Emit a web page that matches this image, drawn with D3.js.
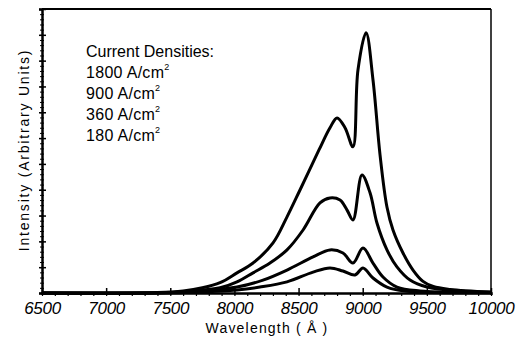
<!DOCTYPE html>
<html>
<head>
<meta charset="utf-8">
<script src="https://d3js.org/d3.v7.min.js"></script>
<style>
  body { margin: 0; background: #fff; }
  text { font-family: "Liberation Sans", "DejaVu Sans", sans-serif; fill: #000; }
  .curve { fill: none; stroke: #000; stroke-width: 3; stroke-linejoin: round; }
</style>
</head>
<body>
<svg width="519" height="341"></svg>
<script>
// wavelength (Angstrom) sample points for each curve
var wl1800 = [6500, 7400, 7600, 7750, 7888, 8020, 8145, 8301, 8410, 8511, 8659, 8745, 8800, 8862, 8924, 8963, 9026, 9080, 9135, 9189, 9236, 9314, 9392, 9470, 9550, 9680, 10000];
var i1800  = [0, 0.02, 0.08, 0.2, 0.4, 0.78, 1.16, 1.94, 2.95, 3.99, 5.54, 6.40, 6.78, 6.40, 5.66, 8.64, 10.08, 8.26, 5.35, 3.33, 2.44, 1.55, 0.89, 0.45, 0.25, 0.14, 0.04];

var wl900 = [6500, 7400, 7650, 7888, 8020, 8145, 8277, 8410, 8535, 8667, 8745, 8823, 8877, 8924, 8994, 9057, 9111, 9189, 9267, 9369, 9501, 9758, 10000];
var i900  = [0, 0.01, 0.07, 0.2, 0.43, 0.78, 1.16, 1.67, 2.44, 3.49, 3.68, 3.60, 3.22, 2.83, 4.57, 3.88, 2.71, 1.67, 1.01, 0.50, 0.23, 0.08, 0.03];

var wl360 = [6500, 7400, 7732, 8020, 8223, 8410, 8613, 8745, 8846, 8924, 9002, 9080, 9158, 9267, 9447, 10000];
var i360  = [0, 0.01, 0.07, 0.23, 0.50, 0.89, 1.40, 1.67, 1.55, 1.16, 1.74, 1.16, 0.62, 0.23, 0.08, 0.02];

var wl180 = [6500, 7400, 7732, 8020, 8199, 8410, 8613, 8745, 8846, 8940, 9002, 9080, 9189, 9330, 10000];
var i180  = [0, 0, 0.04, 0.12, 0.23, 0.43, 0.81, 0.97, 0.85, 0.70, 0.97, 0.58, 0.23, 0.08, 0.01];

var xTicks = [6500, 7000, 7500, 8000, 8500, 9000, 9500, 10000];
var legendTitle = "Current Densities:";
var legendLabels = ["1800", "900", "360", "180"];

var svg = d3.select("svg"),
    margin = {top: 9, right: 28, bottom: 48, left: 42},
    width = +svg.attr("width") - margin.left - margin.right,
    height = +svg.attr("height") - margin.top - margin.bottom;

var x = d3.scaleLinear().domain([6500, 10000]).range([0, width]);
var y = d3.scaleLinear().domain([0, 11]).range([height, 0]);

var g = svg.append("g")
  .attr("transform", "translate(" + margin.left + "," + margin.top + ")");

// frame: top and right
g.append("line").attr("x1", 0).attr("x2", width).attr("y1", 0).attr("y2", 0)
  .attr("stroke", "#000").attr("stroke-width", 2);
g.append("line").attr("x1", width).attr("x2", width).attr("y1", 0).attr("y2", height)
  .attr("stroke", "#000").attr("stroke-width", 1.5);

// minor ticks on bottom axis
g.append("g")
  .attr("transform", "translate(0," + height + ")")
  .call(d3.axisBottom(x).tickValues(d3.range(6500, 10001, 100)).tickSize(3).tickFormat(""))
  .call(function(a) { a.select(".domain").remove(); a.selectAll("line").attr("stroke-width", 1.2); });

// major ticks on bottom axis (inside)
g.append("g")
  .attr("transform", "translate(0," + height + ")")
  .call(d3.axisTop(x).tickValues(xTicks).tickSize(5).tickFormat(""))
  .call(function(a) { a.select(".domain").remove(); a.selectAll("line").attr("stroke-width", 1.5); });

var xAxis = g.append("g")
  .attr("transform", "translate(0," + height + ")")
  .call(d3.axisBottom(x).tickValues(xTicks).tickSize(2).tickPadding(7).tickFormat(d3.format("d")));
xAxis.select(".domain").attr("stroke-width", 2.5);
xAxis.attr("font-size", null).attr("font-family", null);
xAxis.selectAll("text")
  .attr("font-size", 17)
  .attr("font-style", "italic")
  .style("font-size", "17px")
  .style("font-style", "italic")
  .style("letter-spacing", "-0.3px");

// left axis: minor then major ticks
g.append("g")
  .call(d3.axisLeft(y).tickValues(d3.range(0, 11.01, 0.2)).tickSize(2).tickFormat(""))
  .call(function(a) { a.select(".domain").remove(); a.selectAll("line").attr("stroke-width", 1); });
g.append("g")
  .call(d3.axisRight(y).tickValues(d3.range(0, 11.01, 0.2)).tickSize(2).tickFormat(""))
  .call(function(a) { a.select(".domain").remove(); a.selectAll("line").attr("stroke-width", 1); });
g.append("g")
  .call(d3.axisLeft(y).ticks(11).tickSize(3).tickFormat(""))
  .call(function(a) { a.select(".domain").attr("stroke-width", 2.5); a.selectAll("line").attr("stroke-width", 1.5); });
g.append("g")
  .call(d3.axisRight(y).ticks(11).tickSize(4).tickFormat(""))
  .call(function(a) { a.select(".domain").remove(); a.selectAll("line").attr("stroke-width", 1.5); });

// curves
var line = d3.line()
  .x(function(d) { return x(d[0]); })
  .y(function(d) { return Math.min(y(d[1]), height); })
  .curve(d3.curveCatmullRom.alpha(0.5));

[[wl180, i180], [wl360, i360], [wl900, i900], [wl1800, i1800]].forEach(function(s) {
  g.append("path")
    .datum(d3.zip(s[0], s[1]))
    .attr("class", "curve")
    .attr("d", line);
});

// axis titles
svg.append("text")
  .attr("x", 267).attr("y", 333)
  .attr("text-anchor", "middle")
  .style("font-size", "14px")
  .style("letter-spacing", "1.2px")
  .text("Wavelength  ( \u00C5 )");

svg.append("text")
  .attr("transform", "translate(29,150) rotate(-90)")
  .attr("text-anchor", "middle")
  .style("font-size", "14px")
  .style("letter-spacing", "1.8px")
  .text("Intensity  (Arbitrary Units)");

// legend text
var leg = svg.append("g").attr("transform", "translate(86,57)");
leg.append("text").attr("x", 0).attr("y", 0)
  .style("font-size", "16px")
  .text(legendTitle);
legendLabels.forEach(function(l, i) {
  var t = leg.append("text").attr("x", 0).attr("y", 21 * (i + 1))
    .style("font-size", "16px").style("letter-spacing", "0.3px");
  t.append("tspan").text(l + " A/cm");
  t.append("tspan").attr("dy", -8).style("font-size", "9px").text("2");
});
</script>
</body>
</html>
